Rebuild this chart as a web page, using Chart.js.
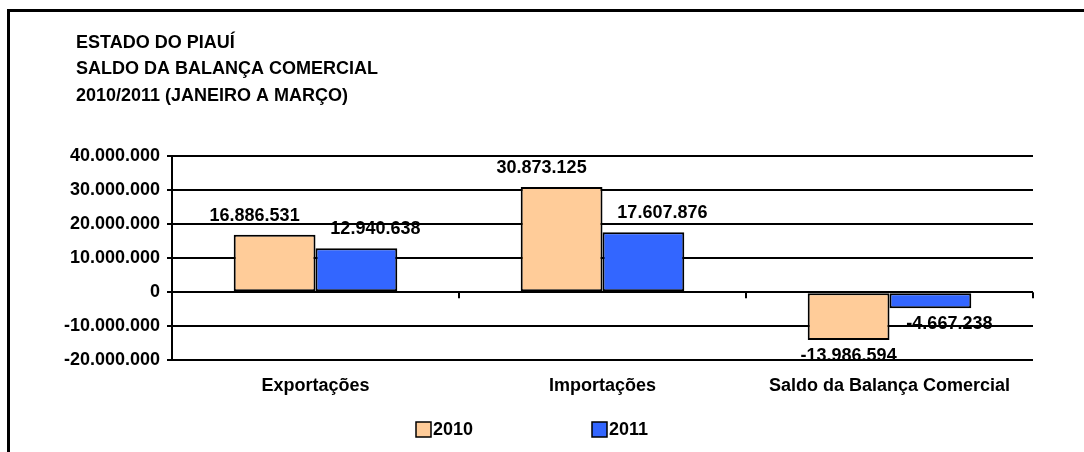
<!DOCTYPE html>
<html>
<head>
<meta charset="utf-8">
<script src="https://cdn.jsdelivr.net/npm/chart.js@4/dist/chart.umd.min.js"></script>
<style>
    html, body { margin: 0; padding: 0; background: #fff; }
    #wrap { position: relative; width: 1084px; height: 452px; overflow: hidden; }
    #frame { position: absolute; left: 7px; top: 9px; width: 1200px; height: 600px;
             border-left: 3px solid #000; border-top: 3px solid #000; }
    #saldoChart { position: absolute; left: 0; top: 0; }
</style>
</head>
<body>
<div id="wrap">
    <div id="frame"></div>
    <canvas id="saldoChart" width="1084" height="452"></canvas>
</div>
<script>
// data
const categories = ['Exportações', 'Importações', 'Saldo da Balança Comercial'];
const seriesNames = ['2010', '2011'];
const values2010 = [16886531, 30873125, -13986594];
const values2011 = [12940638, 17607876, -4667238];
const titleLines = ['ESTADO DO PIAUÍ', 'SALDO DA BALANÇA COMERCIAL', '2010/2011 (JANEIRO A MARÇO)'];
const yMin = -20000000;
const yMax = 40000000;
const yStep = 10000000;

const colors = ['#FFCC99', '#3366FF'];
const FONT = "'Liberation Sans', Arial, sans-serif";
const FONT_SIZE = 18;

function fmt(v) {
    return v.toString().replace(/\B(?=(\d{3})+(?!\d))/g, '.');
}

// left aligned title block (the built-in title would follow the layout padding)
const sheetTitle = {
    id: 'sheetTitle',
    afterDraw(chart, args, opts) {
        const ctx = chart.ctx;
        ctx.save();
        ctx.font = 'bold ' + FONT_SIZE + 'px ' + FONT;
        ctx.fillStyle = '#000';
        ctx.textAlign = 'left';
        ctx.textBaseline = 'middle';
        titleLines.forEach((line, i) => {
            ctx.fillText(line, opts.x, opts.y + i * opts.lineHeight);
        });
        ctx.restore();
    }
};

// value labels above / below each bar
const valueLabels = {
    id: 'valueLabels',
    afterDatasetsDraw(chart) {
        const ctx = chart.ctx;
        ctx.save();
        ctx.font = 'bold ' + FONT_SIZE + 'px ' + FONT;
        ctx.fillStyle = '#000';
        ctx.textAlign = 'center';
        ctx.textBaseline = 'middle';
        chart.data.datasets.forEach((ds, di) => {
            chart.getDatasetMeta(di).data.forEach((bar, i) => {
                const v = ds.data[i];
                const dx = di === 0 ? (v > 0 ? -20 : 0) : 19;
                const dy = v >= 0 ? -19 : 16;
                ctx.fillText(fmt(v), bar.x + dx, bar.y + dy);
            });
        });
        ctx.restore();
    }
};

// small tick marks on the zero line between categories
const zeroTicks = {
    id: 'zeroTicks',
    afterDraw(chart) {
        const ctx = chart.ctx;
        const x = chart.scales.x;
        const y0 = chart.scales.y.getPixelForValue(0);
        ctx.save();
        ctx.strokeStyle = '#000';
        ctx.lineWidth = 2;
        for (let i = 0; i < categories.length; i++) {
            const px = x.getPixelForValue(i + 0.5);
            ctx.beginPath();
            ctx.moveTo(px, y0);
            ctx.lineTo(px, y0 + 6);
            ctx.stroke();
        }
        ctx.restore();
    }
};

// legend drawn like the spreadsheet one (box glued to text, wide gap)
const sheetLegend = {
    id: 'sheetLegend',
    afterDraw(chart, args, opts) {
        const ctx = chart.ctx;
        ctx.save();
        ctx.font = 'bold ' + FONT_SIZE + 'px ' + FONT;
        ctx.textBaseline = 'middle';
        ctx.textAlign = 'left';
        chart.data.datasets.forEach((ds, di) => {
            const x = opts.starts[di];
            ctx.fillStyle = ds.backgroundColor;
            ctx.fillRect(x, opts.y - 7, 15, 15);
            ctx.strokeStyle = '#000';
            ctx.lineWidth = 1.5;
            ctx.strokeRect(x, opts.y - 7, 15, 15);
            ctx.fillStyle = '#000';
            ctx.fillText(ds.label, x + 17, opts.y + 1);
        });
        ctx.restore();
    }
};

const ctx = document.getElementById('saldoChart').getContext('2d');

new Chart(ctx, {
    type: 'bar',
    data: {
        labels: categories,
        datasets: [
            {
                label: seriesNames[0],
                data: values2010,
                backgroundColor: colors[0],
                borderColor: '#000',
                borderWidth: 2,
                borderSkipped: false
            },
            {
                label: seriesNames[1],
                data: values2011,
                backgroundColor: colors[1],
                borderColor: '#000',
                borderWidth: 2,
                borderSkipped: false
            }
        ]
    },
    options: {
        responsive: false,
        animation: false,
        layout: { padding: { left: 40, right: 51, top: 156, bottom: 40 } },
        datasets: {
            bar: { categoryPercentage: 0.57, barPercentage: 1.0 }
        },
        scales: {
            x: {
                grid: { display: false, drawTicks: false },
                border: { display: false },
                ticks: {
                    color: '#000',
                    padding: 15,
                    maxRotation: 0,
                    font: { family: FONT, size: FONT_SIZE, weight: 'bold' }
                }
            },
            y: {
                min: yMin,
                max: yMax,
                afterFit(scale) { scale.width = 132; },
                grid: { color: '#000', lineWidth: 2, tickLength: 5 },
                border: { display: true, color: '#000', width: 2 },
                ticks: {
                    stepSize: yStep,
                    color: '#000',
                    padding: 7,
                    font: { family: FONT, size: FONT_SIZE, weight: 'bold' },
                    callback: (v) => fmt(v)
                }
            }
        },
        plugins: {
            legend: { display: false },
            tooltip: { enabled: false },
            sheetTitle: { x: 76, y: 43, lineHeight: 26.5 },
            sheetLegend: { starts: [416, 592], y: 429 }
        }
    },
    plugins: [sheetTitle, valueLabels, zeroTicks, sheetLegend]
});
</script>
</body>
</html>
